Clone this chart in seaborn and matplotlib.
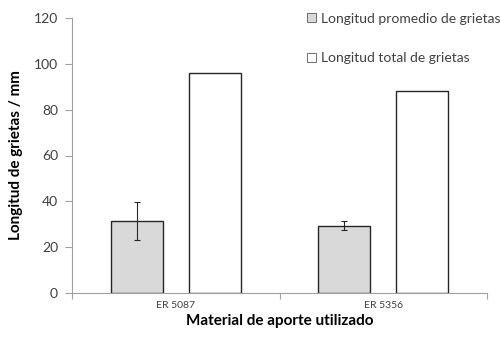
import matplotlib
matplotlib.use("Agg")
import matplotlib.pyplot as plt
import seaborn as sns
import pandas as pd
import numpy as np

materials = ["ER 5087", "ER 5356"]
series = ["Longitud promedio de grietas", "Longitud total de grietas"]
promedio = [31.5, 29.3]
promedio_err = [8.2, 2.0]
total = [96.0, 88.3]

df = pd.DataFrame({
    "Material": materials * 2,
    "Serie": [series[0]] * 2 + [series[1]] * 2,
    "Valor": promedio + total,
})

sns.set_theme(style="white")
plt.rcParams["font.family"] = ["Lato", "DejaVu Sans"]

fig = plt.figure(figsize=(5.01, 3.37), dpi=100)
ax = fig.add_axes([72 / 501, 1 - 293 / 337, 415 / 501, 275 / 337])

sns.barplot(data=df, x="Material", y="Valor", hue="Serie",
            palette=["#d9d9d9", "#ffffff"], width=0.75, gap=1 / 3,
            edgecolor="#262626", linewidth=1.0, errorbar=None, ax=ax)

# error bars on the "promedio" bars
prom_patches = ax.patches[:2]
for p, v, e in zip(prom_patches, promedio, promedio_err):
    cx = p.get_x() + p.get_width() / 2
    ax.errorbar(cx, v, yerr=e, fmt="none", ecolor="#262626",
                elinewidth=0.8, capsize=2.5, capthick=0.8)

ax.set_ylim(0, 120)
ax.set_xlim(-0.5, 1.5)
ax.set_yticks(np.arange(0, 121, 20))
ax.tick_params(axis="y", labelsize=10, length=5, width=0.8,
               direction="out", left=True, pad=5,
               color="#a0a0a0", labelcolor="#404040")
ax.set_xticks([0, 1])
ax.set_xticklabels(materials)
ax.tick_params(axis="x", labelsize=7.5, labelcolor="#404040", length=0, pad=6)
ax.set_xticks([-0.5, 0.5, 1.5], minor=True)
ax.tick_params(axis="x", which="minor", length=4, width=0.8,
               color="#a0a0a0", direction="out", bottom=True)

for s in ["top", "right"]:
    ax.spines[s].set_visible(False)
for s in ["left", "bottom"]:
    ax.spines[s].set_color("#a0a0a0")
    ax.spines[s].set_linewidth(0.8)

ax.set_ylabel("Longitud de grietas / mm", fontsize=11, fontweight="bold",
              color="black", labelpad=8)
ax.set_xlabel("Material de aporte utilizado", fontsize=11, fontweight="bold",
              color="black", labelpad=3)

handles, labels = ax.get_legend_handles_labels()
for h in handles:
    h.set_edgecolor("#595959")
    h.set_linewidth(0.6)
leg = ax.legend(handles, labels, loc="upper left", bbox_to_anchor=(0.537, 1.065),
                frameon=False, fontsize=10, handlelength=0.6,
                handleheight=0.6, handletextpad=0.35, labelspacing=2.0)
for t in leg.get_texts():
    t.set_color("#404040")

fig.savefig("out.png", dpi=100)
